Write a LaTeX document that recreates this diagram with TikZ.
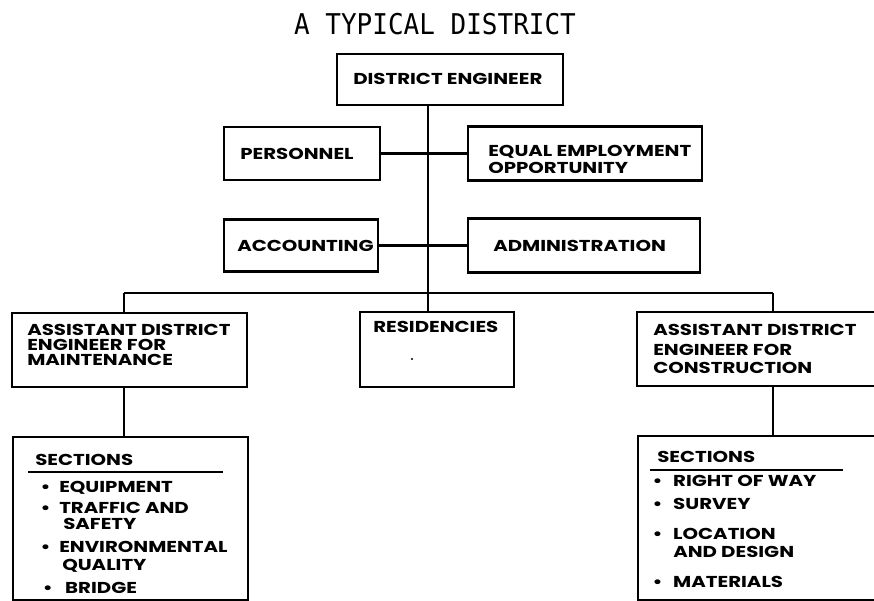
\documentclass[tikz,border=0pt]{standalone}
\usepackage{fontspec}
\newfontfamily\boxfont{Poppins}
\newfontfamily\titlefont{DejaVu Sans Mono}
\begin{document}
\begin{tikzpicture}[x=1pt,y=-1pt,
  unit/.style={draw,line width=2.6pt,rectangle,inner sep=0pt},
  txt/.style={anchor=base west,inner sep=0pt,text height=11pt,text depth=0pt,xscale=1.25,font=\boxfont\bfseries\fontsize{15.8}{15.8}\selectfont},
  link/.style={line width=2.6pt},
  rule/.style={line width=1.4pt}]
\useasboundingbox (0,0) rectangle (874,601);
\clip (0,0) rectangle (874,601);

% title
\node[inner sep=0pt,anchor=base,yscale=1.1,font=\titlefont\fontsize{26}{26}\selectfont] (title) at (435,35) {A TYPICAL DISTRICT};

% boxes
\node[unit,minimum width=226pt,minimum height=51pt] (de) at (450,79.5) {};
\node[unit,minimum width=156pt,minimum height=53pt] (pers) at (302,153.5) {};
\node[unit,minimum width=234pt,minimum height=54pt] (eeo) at (585,153.5) {};
\node[unit,minimum width=154pt,minimum height=52pt] (acc) at (301,245.5) {};
\node[unit,minimum width=232pt,minimum height=54pt] (adm) at (584,245.5) {};
\node[unit,minimum width=235pt,minimum height=74pt] (adem) at (129.5,350) {};
\node[unit,minimum width=154pt,minimum height=75pt] (res) at (437,349.5) {};
\node[unit,minimum width=260pt,minimum height=74pt] (adec) at (767,349) {};
\node[unit,minimum width=235pt,minimum height=163pt] (secm) at (130.5,518.5) {};
\node[unit,minimum width=260pt,minimum height=164pt] (secc) at (768,518) {};

% box texts
\node[txt] (tde) at (353,85) {DISTRICT ENGINEER};
\node[txt] (tpers) at (240,160) {PERSONNEL};
\node[txt] (teeo1) at (488,157) {EQUAL EMPLOYMENT};
\node[txt] (teeo2) at (488,174) {OPPORTUNITY};
\node[txt] (tacc) at (237,252) {ACCOUNTING};
\node[txt] (tadm) at (493,252) {ADMINISTRATION};
\node[txt] (tadem1) at (27,335) {ASSISTANT DISTRICT};
\node[txt] (tadem2) at (27,350.5) {ENGINEER FOR};
\node[txt] (tadem3) at (27,365) {MAINTENANCE};
\node[txt] (tres) at (373,332) {RESIDENCIES};
\fill (412,359) circle (1.2pt);
\node[txt] (tadec1) at (653,335) {ASSISTANT DISTRICT};
\node[txt] (tadec2) at (653,355) {ENGINEER FOR};
\node[txt] (tadec3) at (653,373) {CONSTRUCTION};

% sections, maintenance
\node[txt] (sm0) at (35,465) {SECTIONS};
\draw[rule] (28,472) -- (223,472);
\node[txt] (sm1) at (59,492) {\llap{•\hspace{7pt}}EQUIPMENT};
\node[txt] (sm2) at (59,513) {\llap{•\hspace{7pt}}TRAFFIC AND};
\node[txt] (sm3) at (63,529) {SAFETY};
\node[txt] (sm4) at (59,552) {\llap{•\hspace{7pt}}ENVIRONMENTAL};
\node[txt] (sm5) at (62,570) {QUALITY};
\node[txt] (sm6) at (65,593) {\llap{•\hspace{10pt}}BRIDGE};

% sections, construction
\node[txt] (sc0) at (657,462) {SECTIONS};
\draw[rule] (650,470) -- (843,470);
\node[txt] (sc1) at (673,486) {\llap{•\hspace{8.5pt}}RIGHT OF WAY};
\node[txt] (sc2) at (673,509) {\llap{•\hspace{8.5pt}}SURVEY};
\node[txt] (sc3) at (673,539) {\llap{•\hspace{8.5pt}}LOCATION};
\node[txt] (sc4) at (673,557) {AND DESIGN};
\node[txt] (sc5) at (673,587) {\llap{•\hspace{8.5pt}}MATERIALS};

% connectors
\coordinate (top) at (428,105);
\coordinate (busL) at (124,293);
\coordinate (busR) at (773,293);
\draw[link] (top) -- (top |- res.north);
\draw[link] (pers.east) -- (eeo.west);
\draw[link] (acc.east) -- (adm.west);
\draw[link] (busL) -- (busR);
\draw[link] (busL) -- (busL |- adem.north);
\draw[link] (busR) -- (busR |- adec.north);
\draw[link] (busL |- adem.south) -- (busL |- secm.north);
\draw[link] (busR |- adec.south) -- (busR |- secc.north);
\end{tikzpicture}
\end{document}
